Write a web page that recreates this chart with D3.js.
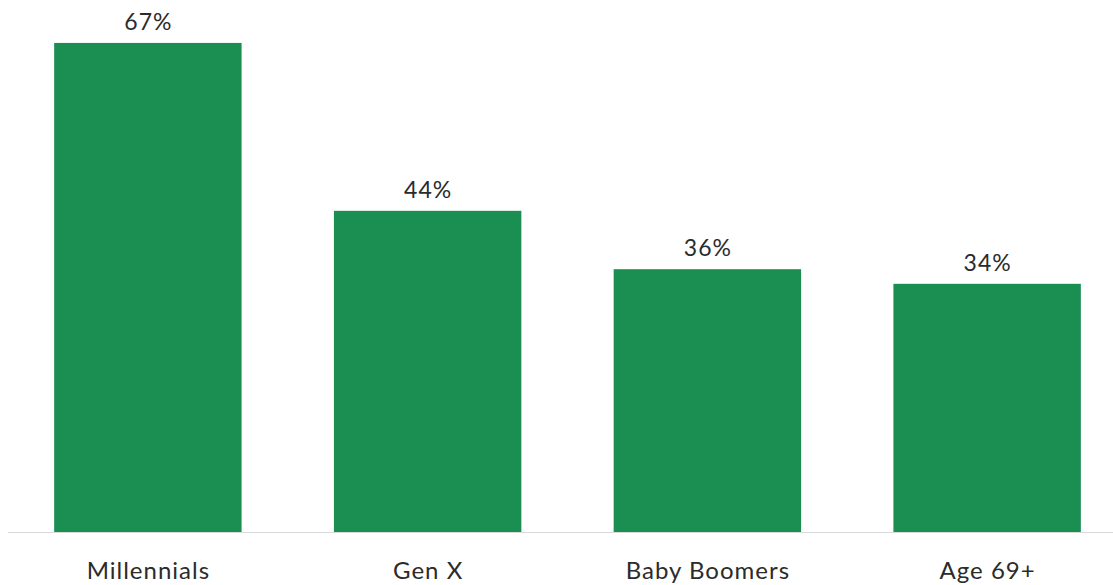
<!DOCTYPE html>
<html>
<head>
<meta charset="utf-8">
<script src="https://cdn.jsdelivr.net/npm/d3@7"></script>
<style>
  html, body { margin: 0; padding: 0; background: #fff; }
  svg { display: block; }
  text { font-family: Lato, "Open Sans", sans-serif; fill: #2b2b2b; }
</style>
</head>
<body>
<svg id="chart" width="1113" height="585"></svg>
<script>
const categories = ["Millennials", "Gen X", "Baby Boomers", "Age 69+"];
const values = [67, 44, 36, 34];
const valueLabels = ["67%", "44%", "36%", "34%"];

const svg = d3.select("#chart");
const W = 1113, H = 585;
const baseY = 532;

const x = d3.scaleBand()
  .domain(categories)
  .range([8, 1127])
  .paddingInner(0.33)
  .paddingOuter(0.165);

const y = d3.scaleLinear()
  .domain([0, 72.88])
  .range([baseY, 0]);

// baseline
svg.append("line")
  .attr("x1", 8).attr("x2", W)
  .attr("y1", baseY + 0.5).attr("y2", baseY + 0.5)
  .attr("stroke", "#d9d9d9").attr("stroke-width", 1.2);

// bars
svg.selectAll("rect.bar")
  .data(values)
  .join("rect")
  .attr("class", "bar")
  .attr("x", (d, i) => x(categories[i]))
  .attr("y", d => y(d))
  .attr("width", x.bandwidth())
  .attr("height", d => baseY - y(d))
  .attr("fill", "#1b8e52");

// value labels
svg.selectAll("text.val")
  .data(values)
  .join("text")
  .attr("class", "val")
  .attr("x", (d, i) => x(categories[i]) + x.bandwidth() / 2 + 0.5)
  .attr("y", d => y(d) - 13)
  .attr("text-anchor", "middle")
  .attr("font-size", 23)
  .attr("letter-spacing", 1)
  .text((d, i) => valueLabels[i]);

// category labels
svg.selectAll("text.cat")
  .data(categories)
  .join("text")
  .attr("class", "cat")
  .attr("x", d => x(d) + x.bandwidth() / 2 + 0.5)
  .attr("y", 579)
  .attr("text-anchor", "middle")
  .attr("font-size", 24)
  .attr("letter-spacing", 1)
  .text(d => d);
</script>
</body>
</html>
